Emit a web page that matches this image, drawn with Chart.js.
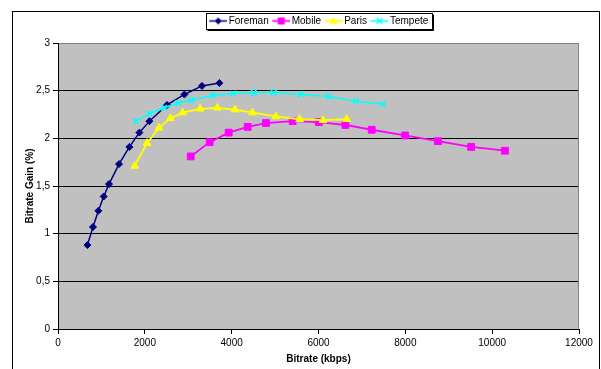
<!DOCTYPE html>
<html>
<head>
<meta charset="utf-8">
<script src="https://cdn.jsdelivr.net/npm/chart.js@4"></script>
<style>
  html, body { margin: 0; padding: 0; background: #ffffff; }
  #wrap { width: 601px; height: 369px; position: relative; }
</style>
</head>
<body>
<div id="wrap"><canvas id="c" width="601" height="369"></canvas></div>
<script>
// ---- Data ----
const seriesNames = ['Foreman', 'Mobile', 'Paris', 'Tempete'];

const foremanBitrate = [677, 806, 930, 1053, 1175, 1405, 1644, 1875, 2105, 2510, 2911, 3316, 3717];
const foremanGain    = [0.88, 1.07, 1.24, 1.39, 1.52, 1.73, 1.91, 2.06, 2.18, 2.35, 2.46, 2.55, 2.58];

const mobileBitrate  = [3056, 3494, 3931, 4369, 4790, 5405, 6009, 6619, 7225, 7992, 8752, 9516, 10295];
const mobileGain     = [1.81, 1.96, 2.06, 2.12, 2.16, 2.18, 2.17, 2.14, 2.09, 2.03, 1.97, 1.91, 1.87];

const parisBitrate   = [1767, 2050, 2326, 2589, 2872, 3270, 3671, 4076, 4477, 5021, 5567, 6103, 6649];
const parisGain      = [1.71, 1.95, 2.11, 2.21, 2.27, 2.31, 2.32, 2.30, 2.27, 2.23, 2.20, 2.19, 2.20];

const tempeteBitrate = [1790, 2112, 2441, 2764, 3072, 3556, 4030, 4507, 4968, 5601, 6235, 6856, 7485];
const tempeteGain    = [2.18, 2.26, 2.32, 2.37, 2.40, 2.45, 2.47, 2.48, 2.48, 2.46, 2.44, 2.39, 2.36];

const xTickValues = [0, 2000, 4000, 6000, 8000, 10000, 12000];
const yTickValues = [0, 0.5, 1, 1.5, 2, 2.5, 3];

const xTitle = 'Bitrate (kbps)';
const yTitle = 'Bitrate Gain (%)';

// ---- Styles ----
const FONT = "'Liberation Sans', Arial, sans-serif";
const styles = [
  { color: '#000080', point: 'rectRot', radius: 3.5, width: 1.5 },
  { color: '#FF00FF', point: 'rect',    radius: 4.8, width: 1.8 },
  { color: '#FFFF00', point: 'triangle',radius: 4.5, width: 1.8 },
  { color: '#00FFFF', point: 'crossRot',radius: 4,   width: 1.5 }
];

function pairs(xs, ys) { return xs.map((x, i) => ({ x: x, y: ys[i] })); }
const seriesData = [
  pairs(foremanBitrate, foremanGain),
  pairs(mobileBitrate, mobileGain),
  pairs(parisBitrate, parisGain),
  pairs(tempeteBitrate, tempeteGain)
];

// Legend swatches: short line with the marker in the middle
function makeSwatch(st) {
  const cv = document.createElement('canvas');
  cv.width = 22; cv.height = 11;
  const g = cv.getContext('2d');
  g.strokeStyle = st.color; g.lineWidth = st.width;
  g.beginPath(); g.moveTo(4, 5.5); g.lineTo(22, 5.5); g.stroke();
  const cx = 13, cy = 5.5;
  g.fillStyle = st.color;
  g.beginPath();
  if (st.point === 'rectRot') {
    g.moveTo(cx, cy - 3.5); g.lineTo(cx + 3.5, cy); g.lineTo(cx, cy + 3.5); g.lineTo(cx - 3.5, cy); g.closePath(); g.fill();
  } else if (st.point === 'rect') {
    g.fillRect(cx - 3.5, cy - 3.5, 7, 7);
  } else if (st.point === 'triangle') {
    g.moveTo(cx, cy - 4); g.lineTo(cx + 4, cy + 3); g.lineTo(cx - 4, cy + 3); g.closePath(); g.fill();
  } else {
    g.lineWidth = 1.3;
    g.moveTo(cx - 3, cy - 3); g.lineTo(cx + 3, cy + 3);
    g.moveTo(cx + 3, cy - 3); g.lineTo(cx - 3, cy + 3);
    g.stroke();
  }
  return cv;
}
const swatches = styles.map(makeSwatch);

const datasets = seriesNames.map((name, i) => ({
  label: name,
  data: seriesData[i],
  showLine: true,
  borderColor: styles[i].color,
  backgroundColor: styles[i].color,
  borderWidth: styles[i].width,
  pointStyle: styles[i].point,
  pointRadius: styles[i].radius,
  pointBorderWidth: styles[i].point === 'crossRot' ? 1.5 : 1,
  pointBorderColor: styles[i].color,
  pointBackgroundColor: styles[i].color,
  tension: 0,
  order: seriesNames.length - i
}));

const framePlugin = {
  id: 'frame',
  beforeLayout(chart) {
    const lg = chart.legend;
    if (lg && !lg.__wrapped) {
      const orig = lg.fit.bind(lg);
      lg.fit = function () { orig(); this.height += 7; };
      lg.__wrapped = true;
    }
  },
  beforeDraw(chart) {
    const ctx = chart.ctx, a = chart.chartArea;
    ctx.save();
    ctx.fillStyle = '#ffffff';
    ctx.fillRect(0, 0, chart.width, chart.height);
    // outer frame
    ctx.strokeStyle = '#000000';
    ctx.lineWidth = 1;
    ctx.strokeRect(12.5, 11.5, 587, 370);
    // plot background
    ctx.fillStyle = '#C0C0C0';
    ctx.fillRect(a.left, a.top, a.right - a.left, a.bottom - a.top);
    ctx.restore();
  },
  beforeDatasetsDraw(chart) {
    const ctx = chart.ctx, a = chart.chartArea;
    ctx.save();
    ctx.strokeStyle = '#808080';
    ctx.lineWidth = 1;
    ctx.beginPath();
    ctx.moveTo(Math.round(a.right) - 0.5, a.top);
    ctx.lineTo(Math.round(a.right) - 0.5, a.bottom);
    ctx.stroke();
    ctx.restore();
  },
  afterDraw(chart) {
    const lg = chart.legend;
    if (!lg || !lg.legendHitBoxes || !lg.legendHitBoxes.length) return;
    const hb = lg.legendHitBoxes;
    const first = hb[0], last = hb[hb.length - 1];
    const l = Math.round(first.left - 3) + 0.5;
    const r = Math.round(last.left + last.width + 4) + 0.5;
    const t = Math.round(lg.top) + 0.5;
    const b = t + 16;
    const ctx = chart.ctx;
    ctx.save();
    ctx.strokeStyle = '#000000';
    ctx.lineWidth = 1;
    ctx.strokeRect(l, t, r - l, b - t);
    ctx.beginPath();
    ctx.moveTo(r + 1, t + 1); ctx.lineTo(r + 1, b + 1); ctx.lineTo(l + 1, b + 1);
    ctx.stroke();
    ctx.restore();
  }
};

new Chart(document.getElementById('c'), {
  type: 'scatter',
  data: { datasets: datasets },
  plugins: [framePlugin],
  options: {
    responsive: false,
    animation: false,
    devicePixelRatio: 1,
    layout: { padding: { left: 0, right: 22, top: 13, bottom: 0 } },
    font: { family: FONT },
    plugins: {
      tooltip: { enabled: false },
      legend: {
        display: true,
        position: 'top',
        fullSize: false,
        align: 'center',
        labels: {
          usePointStyle: true,
          pointStyleWidth: 15,
          boxHeight: 10,
          padding: 3,
          color: '#000000',
          font: { family: FONT, size: 10 },
          generateLabels(chart) {
            return chart.data.datasets.map((ds, i) => ({
              text: ds.label,
              pointStyle: swatches[i],
              fillStyle: ds.borderColor,
              strokeStyle: ds.borderColor,
              lineWidth: 0,
              hidden: false,
              datasetIndex: i
            }));
          }
        }
      }
    },
    scales: {
      x: {
        type: 'linear',
        min: 0, max: 12000,
        afterBuildTicks(scale) { scale.ticks = xTickValues.map(v => ({ value: v })); },
        afterFit(scale) { scale.height = 40; },
        ticks: {
          color: '#000000',
          font: { family: FONT, size: 10 },
          padding: 3,
          maxRotation: 0,
          callback: (v) => String(v)
        },
        grid: { drawOnChartArea: false, drawTicks: true, tickLength: 5, color: '#000000' },
        border: { display: true, color: '#000000', width: 1 },
        title: {
          display: true, text: xTitle, color: '#000000',
          font: { family: FONT, size: 10, weight: 'bold' },
          padding: { top: 0, bottom: 4 }
        }
      },
      y: {
        type: 'linear',
        min: 0, max: 3,
        afterBuildTicks(scale) { scale.ticks = yTickValues.map(v => ({ value: v })); },
        afterFit(scale) { scale.width = 58; },
        ticks: {
          color: '#000000',
          font: { family: FONT, size: 10 },
          padding: 3,
          callback: (v) => String(v).replace('.', ',')
        },
        grid: {
          drawOnChartArea: true, drawTicks: true, tickLength: 5,
          color: (c) => (c.tick && c.tick.value === 3) ? '#808080' : '#000000',
          tickColor: '#000000'
        },
        border: { display: true, color: '#000000', width: 1 },
        title: {
          display: true, text: yTitle, color: '#000000',
          font: { family: FONT, size: 10, weight: 'bold' },
          padding: { top: 24, bottom: 0 }
        }
      }
    }
  }
});
</script>
</body>
</html>
